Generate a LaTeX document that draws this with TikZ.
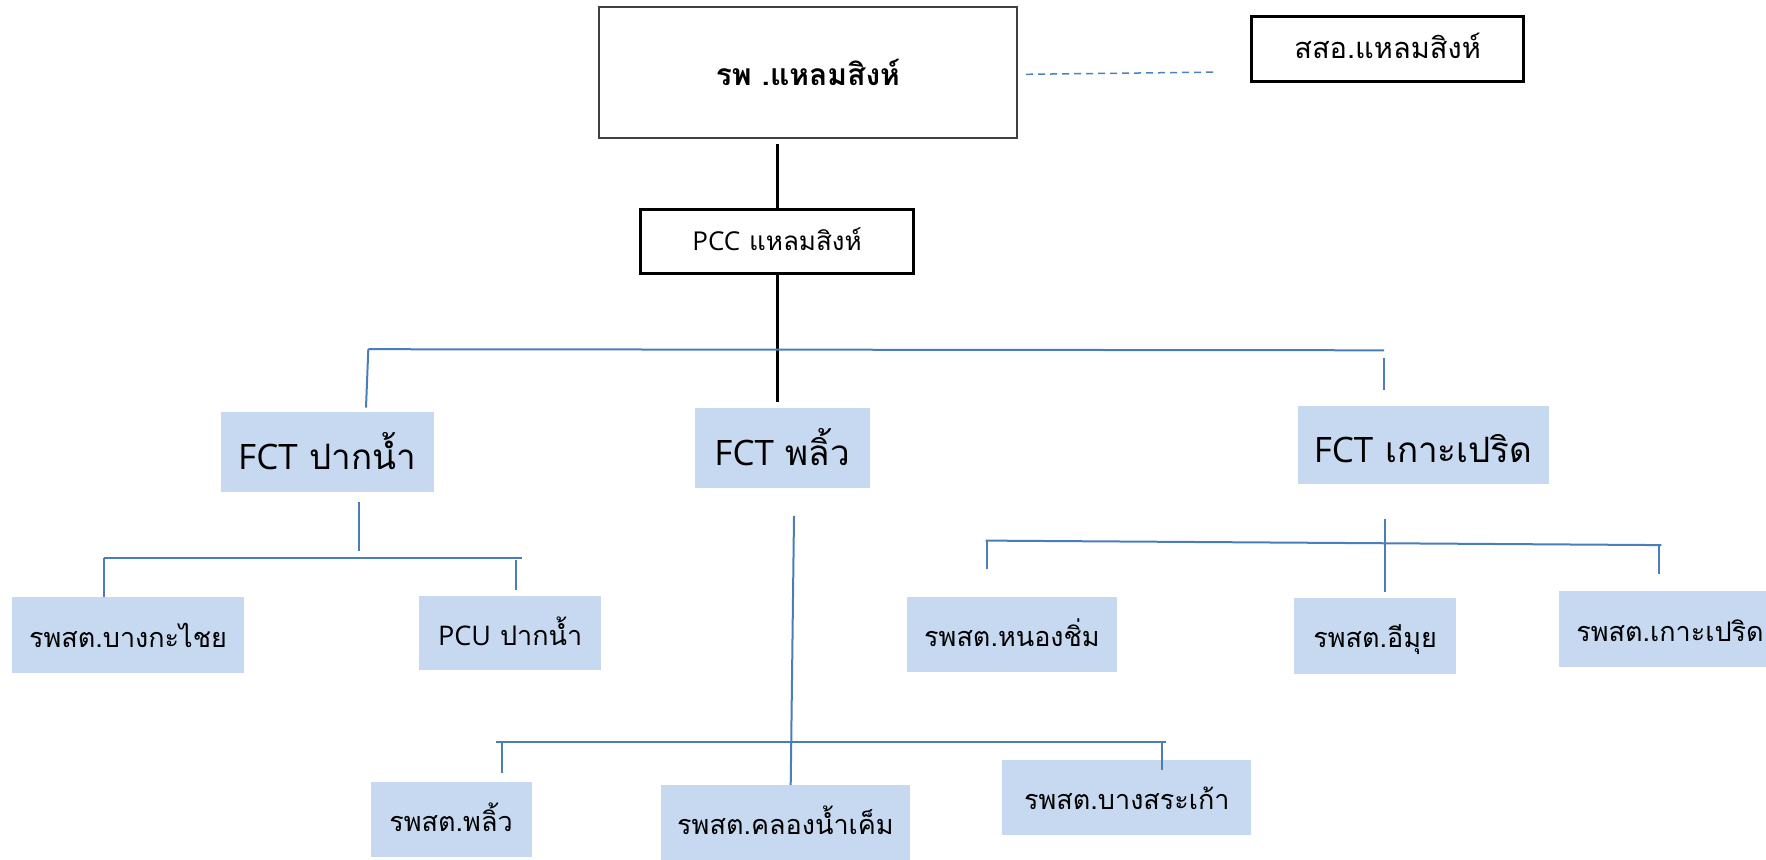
\documentclass[tikz,border=0pt]{standalone}
\usepackage{fontspec}
\setmainfont[Script=Thai]{Loma}
\newfontfamily\lat{Open Sans}
\definecolor{boxfill}{HTML}{C6D9F1}
\definecolor{lineblue}{HTML}{4A7EBB}
\definecolor{dashblue}{HTML}{4F81BD}
\definecolor{darkframe}{HTML}{404040}
\tikzset{
  bluebox/.style={fill=boxfill, draw=none, inner sep=0pt, align=center, text depth=0pt},
  framebox/.style={draw=black, line width=3pt, fill=white, inner sep=0pt, align=center, text depth=0pt},
  bline/.style={draw=lineblue, line width=2pt},
  kline/.style={draw=black, line width=3pt},
  subtxt/.style={font=\fontsize{27}{32}\selectfont, text height=24pt},
  fcttxt/.style={font=\fontsize{35}{42}\selectfont, text height=35pt},
}
\begin{document}
\begin{tikzpicture}[x=1pt,y=-1pt]
\useasboundingbox (0,0) rectangle (1766,859);
% top boxes
\node[draw=darkframe, line width=2pt, inner sep=0pt, minimum width=418.3pt, minimum height=131.6pt, font=\bfseries\fontsize{30}{34}\selectfont, text height=25pt, text depth=0pt] (rph) at (807.9,72.5) {รพ .แหลมสิงห์};
\node[framebox, minimum width=272.6pt, minimum height=64.2pt, font=\fontsize{29}{34}\selectfont, text height=20pt] (ssao) at (1387.6,49.0) {สสอ.แหลมสิงห์};
\node[framebox, minimum width=272.5pt, minimum height=64.2pt, font=\fontsize{26}{30}\selectfont, text height=18pt] (pcc) at (777.1,241.6) {{\lat PCC} แหลมสิงห์};
% FCT boxes
\node[bluebox, fcttxt, minimum width=212.8pt, minimum height=80pt] (fct1) at (327.2,452.2) {{\lat FCT} ปากน้ำ};
\node[bluebox, fcttxt, minimum width=174.6pt, minimum height=80pt] (fct2) at (782.2,447.7) {{\lat FCT} พลิ้ว};
\node[bluebox, fcttxt, minimum width=251.2pt, minimum height=78.8pt] (fct3) at (1423.1,444.9) {{\lat FCT} เกาะเปริด};
% sub boxes
\node[bluebox, subtxt, minimum width=232pt, minimum height=76pt] (s1) at (128,635) {รพสต.บางกะไชย};
\node[bluebox, subtxt, minimum width=182.4pt, minimum height=74.3pt] (s2) at (510.2,633.0) {{\lat PCU} ปากน้ำ};
\node[bluebox, subtxt, minimum width=161pt, minimum height=75.4pt] (s3) at (451.1,819.4) {รพสต.พลิ้ว};
\node[bluebox, subtxt, minimum width=249pt, minimum height=75pt] (s4) at (785.5,822.5) {รพสต.คลองน้ำเค็ม};
\node[bluebox, subtxt, minimum width=248.9pt, minimum height=74.3pt] (s5) at (1126.9,797.4) {รพสต.บางสระเก้า};
\node[bluebox, subtxt, minimum width=210.6pt, minimum height=75.5pt] (s6) at (1012,634.7) {รพสต.หนองชิ่ม};
\node[bluebox, subtxt, minimum width=162.2pt, minimum height=75.4pt] (s7) at (1375.2,635.8) {รพสต.อีมุย};
\node[bluebox, subtxt, minimum width=222pt, minimum height=76pt] (s8) at (1670,629) {รพสต.เกาะเปริด};
% coordinates
\coordinate (d1) at (1026.1,74.3);
\coordinate (d2) at (1216.4,72.1);
\coordinate (k1a) at (777.1,144.2);
\coordinate (k2b) at (777.1,402.1);
\coordinate (b1l) at (368.3,349.2);
\coordinate (b1r) at (1384.2,350.3);
\coordinate (b1ld) at (366.0,407.7);
\coordinate (b1rt) at (1384.2,358.2);
\coordinate (b1rd) at (1384.2,389.7);
\coordinate (v1t) at (359.3,502.3);
\coordinate (v1b) at (359.3,550.8);
\coordinate (b2l) at (103.6,557.5);
\coordinate (b2r) at (521.5,557.5);
\coordinate (b2d1) at (103.6,597);
\coordinate (b2d2t) at (515.8,559.8);
\coordinate (b2d2b) at (515.8,590.2);
\coordinate (v2t) at (794.0,515.8);
\coordinate (v2b) at (790.7,785.0);
\coordinate (b3l) at (495.6,742.2);
\coordinate (b3r) at (1165.7,742.2);
\coordinate (b3d1) at (502.3,742.2);
\coordinate (b3d1b) at (502.3,772.6);
\coordinate (b3d2) at (1162.3,742.2);
\coordinate (b3d2b) at (1162.3,770.4);
\coordinate (v3t) at (1385.3,519.2);
\coordinate (v3b) at (1385.3,592.4);
\coordinate (b4l) at (985.5,540.6);
\coordinate (b4r) at (1661.3,545.1);
\coordinate (b4d1) at (986.6,540.6);
\coordinate (b4d1b) at (986.6,568.8);
\coordinate (b4d2) at (1659,544.5);
\coordinate (b4d2b) at (1659,574);
% connectors
\draw[dashblue, line width=1.5pt, dash pattern=on 7pt off 5pt] (d1) -- (d2);
\draw[kline] (k1a) -- (pcc.north);
\draw[kline] (pcc.south) -- (k2b);
\draw[bline] (b1l) -- (b1r);
\draw[bline] (b1l) -- (b1ld);
\draw[bline] (b1rt) -- (b1rd);
\draw[bline] (v1t) -- (v1b);
\draw[bline] (b2l) -- (b2r);
\draw[bline] (b2l) -- (b2d1);
\draw[bline] (b2d2t) -- (b2d2b);
\draw[bline] (v2t) -- (v2b);
\draw[bline] (b3l) -- (b3r);
\draw[bline] (b3d1) -- (b3d1b);
\draw[bline] (b3d2) -- (b3d2b);
\draw[bline] (v3t) -- (v3b);
\draw[bline] (b4l) -- (b4r);
\draw[bline] (b4d1) -- (b4d1b);
\draw[bline] (b4d2) -- (b4d2b);
\end{tikzpicture}
\end{document}
